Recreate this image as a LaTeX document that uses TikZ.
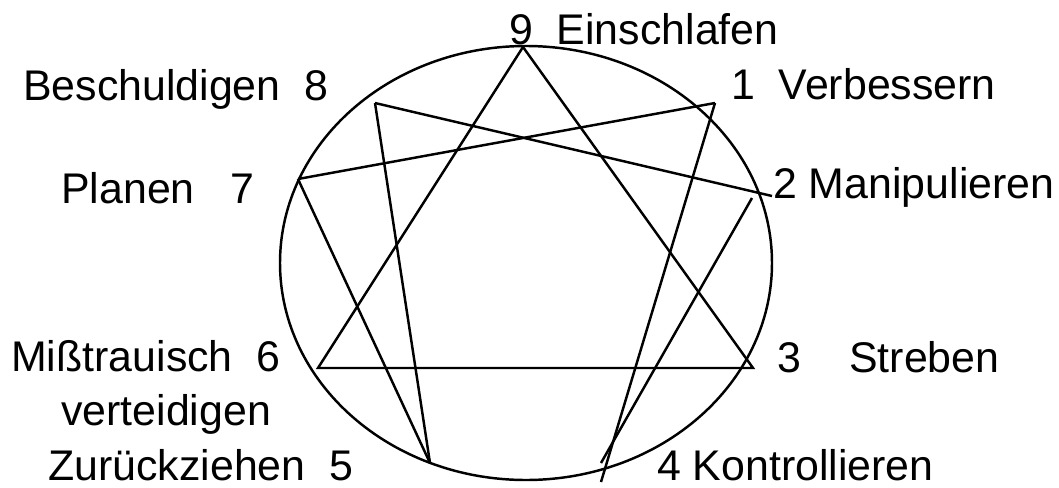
\documentclass[tikz,border=0pt]{standalone}
\usepackage{fontspec}
\setmainfont{Liberation Sans}
\usepackage{tikz}
\usetikzlibrary{positioning}

\begin{document}
\begin{tikzpicture}[font=\fontsize{12.2}{15.1}\selectfont, line width=0.7pt,
  typ/.style={anchor=base west, inner sep=0pt}]

  \useasboundingbox (0,0) rectangle (10.59,4.87);

  % the circle
  \coordinate (mitte) at (5.26,2.24);
  \draw (mitte) ellipse [x radius=2.46, y radius=2.17];

  % points of the figure
  \coordinate (p9) at (5.23,4.40);
  \coordinate (p1) at (7.15,3.84);
  \coordinate (p2a) at (7.72,2.91);
  \coordinate (p2b) at (7.52,2.89);
  \coordinate (p3) at (7.53,1.19);
  \coordinate (p4a) at (6.01,0.24);
  \coordinate (p4b) at (6.01,0.05);
  \coordinate (p5) at (4.30,0.24);
  \coordinate (p6) at (3.18,1.19);
  \coordinate (p7) at (2.98,3.08);
  \coordinate (p8) at (3.75,3.84);

  % triangle 3-6-9
  \draw (p9) -- (p3) -- (p6) -- cycle;

  % the other lines
  \draw (p7) -- (p1);
  \draw (p1) -- (p4b);
  \draw (p8) -- (p2a);
  \draw (p2b) -- (p4a);
  \draw (p8) -- (p5);
  \draw (p7) -- (p5);

  % labels
  \node[typ] (t9) at (5.08,4.43) {9~~Einschlafen};
  \node[typ] (t1) at (7.30,3.88) {1~~Verbessern};
  \node[typ] (t8) at (0.22,3.87) {Beschuldigen~~8};
  \node[typ] (t2) at (7.72,2.89) {2 Manipulieren};
  \node[typ] (t7) at (0.60,2.84) {Planen~~~7};
  \node[typ, align=left] (t6) at (0.10,0.62) {Mißtrauisch~~6\\\hspace*{0.50cm}verteidigen};
  \node[typ] (t3) at (7.765,1.15) {3~~~~Streben};
  \node[typ] (t5) at (0.47,0.07) {Zurückziehen~~5};
  \node[typ] (t4) at (6.56,0.07) {4 Kontrollieren};

\end{tikzpicture}
\end{document}
